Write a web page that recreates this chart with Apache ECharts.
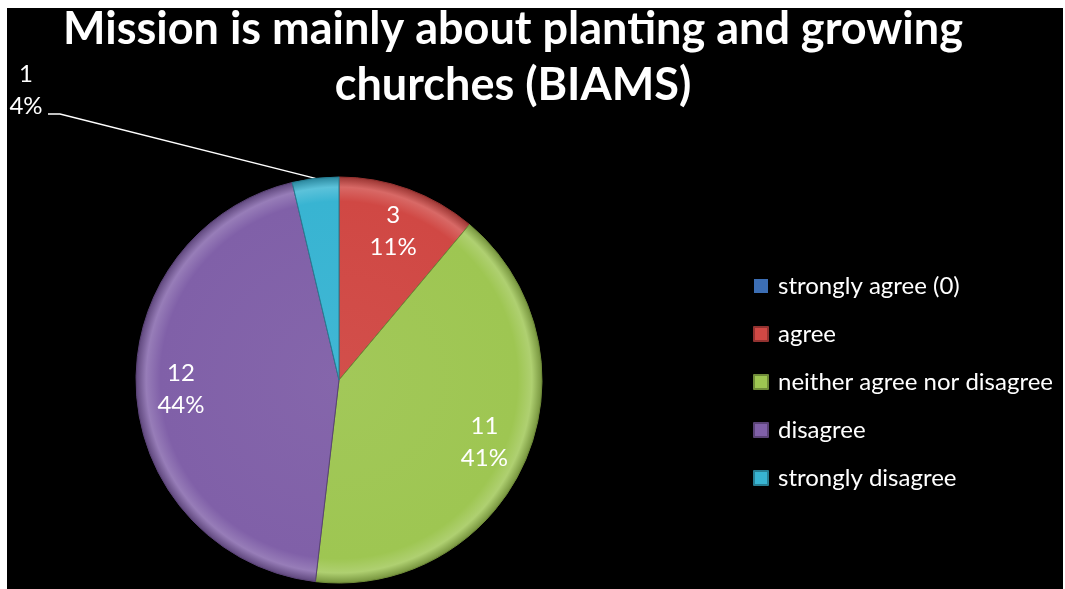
<!DOCTYPE html>
<html>
<head>
<meta charset="utf-8">
<script src="https://cdn.jsdelivr.net/npm/echarts@6/dist/echarts.min.js"></script>
<style>
html,body{margin:0;padding:0;background:#fff;}
#c{width:1065px;height:589px;}
</style>
</head>
<body>
<div id="c"></div>
<script>
const titleLines = ['Mission is mainly about planting and growing', 'churches (BIAMS)'];
const categories = ['strongly agree (0)', 'agree', 'neither agree nor disagree', 'disagree', 'strongly disagree'];
const counts = [0, 3, 11, 12, 1];
const colors = ['#3C6EB4', '#D04844', '#9EC652', '#8060A8', '#38B4D2'];

const CX = 339, CY = 380, R = 203;

function shade(hex, f) {
  const n = parseInt(hex.slice(1), 16);
  let r = (n >> 16) & 255, g = (n >> 8) & 255, b = n & 255;
  const adj = v => Math.max(0, Math.min(255, Math.round(f >= 0 ? v + (255 - v) * f : v * (1 + f))));
  return 'rgb(' + adj(r) + ',' + adj(g) + ',' + adj(b) + ')';
}
function fillFor(hex) {
  return {
    type: 'radial', x: CX, y: CY, r: R, global: true,
    colorStops: [
      { offset: 0, color: shade(hex, 0.04) },
      { offset: 0.88, color: hex },
      { offset: 0.95, color: shade(hex, 0.18) },
      { offset: 1, color: shade(hex, -0.25) }
    ]
  };
}

const total = counts.reduce((a, b) => a + b, 0);
function midAngle(i) {
  let before = 0;
  for (let k = 0; k < i; k++) before += counts[k];
  return (before + counts[i] / 2) / total * Math.PI * 2;
}

const chart = echarts.init(document.getElementById('c'), null, { renderer: 'canvas' });
chart.setOption({
  backgroundColor: '#fff',
  animation: false,
  graphic: [
    { type: 'rect', z: -10, shape: { x: 7, y: 8, width: 1056, height: 581 }, style: { fill: '#000' }, silent: true },
    {
      type: 'text', z: 10, x: 513, y: 1,
      style: {
        text: titleLines.join('\n'), fill: '#fff', font: 'bold 45px Lato',
        textAlign: 'center', textVerticalAlign: 'top', lineHeight: 56
      }
    }
  ],
  legend: {
    orient: 'vertical', left: 753, top: 274, padding: 0,
    icon: 'rect', itemWidth: 14, itemHeight: 14, itemGap: 24,
    textStyle: { color: '#fff', fontFamily: 'Lato', fontSize: 24, lineHeight: 24, padding: [0, 0, 0, 5] },
    data: categories.map((n, i) => ({ name: n, itemStyle: { color: colors[i] } }))
  },
  series: [{
    type: 'pie',
    center: [CX, CY],
    radius: R,
    startAngle: 90,
    clockwise: true,
    avoidLabelOverlap: false,
    label: {
      show: true, position: 'inside', color: '#fff', fontFamily: 'Lato', fontSize: 24, lineHeight: 32,
      formatter: p => p.value + '\n' + Math.round(p.percent) + '%'
    },
    labelLine: { show: false },
    labelLayout: function (p) {
      const i = p.dataIndex;
      if (counts[i] === 0) return {};
      if (i === 4) {
        const p0 = p.labelLinePoints ? p.labelLinePoints[0] : [315, 178];
        return { x: 26, y: 90, align: 'center', verticalAlign: 'middle', labelLinePoints: [p0, [60, 114], [48, 114]] };
      }
      const a = midAngle(i);
      const k = 0.78;
      return { x: CX + k * R * Math.sin(a), y: CY - k * R * Math.cos(a), align: 'center', verticalAlign: 'middle' };
    },
    data: categories.map((n, i) => {
      const item = {
        name: n, value: counts[i],
        itemStyle: { color: fillFor(colors[i]), borderColor: shade(colors[i], -0.3), borderWidth: counts[i] ? 1 : 0 }
      };
      if (counts[i] === 0) item.label = { show: false };
      if (i === 4) {
        item.label = { position: 'outside', color: '#fff', fontFamily: 'Lato', fontSize: 24, lineHeight: 32 };
        item.labelLine = { show: true, length: 20, length2: 20, lineStyle: { color: '#fff', width: 1.5 } };
      }
      return item;
    })
  }]
});
</script>
</body>
</html>
